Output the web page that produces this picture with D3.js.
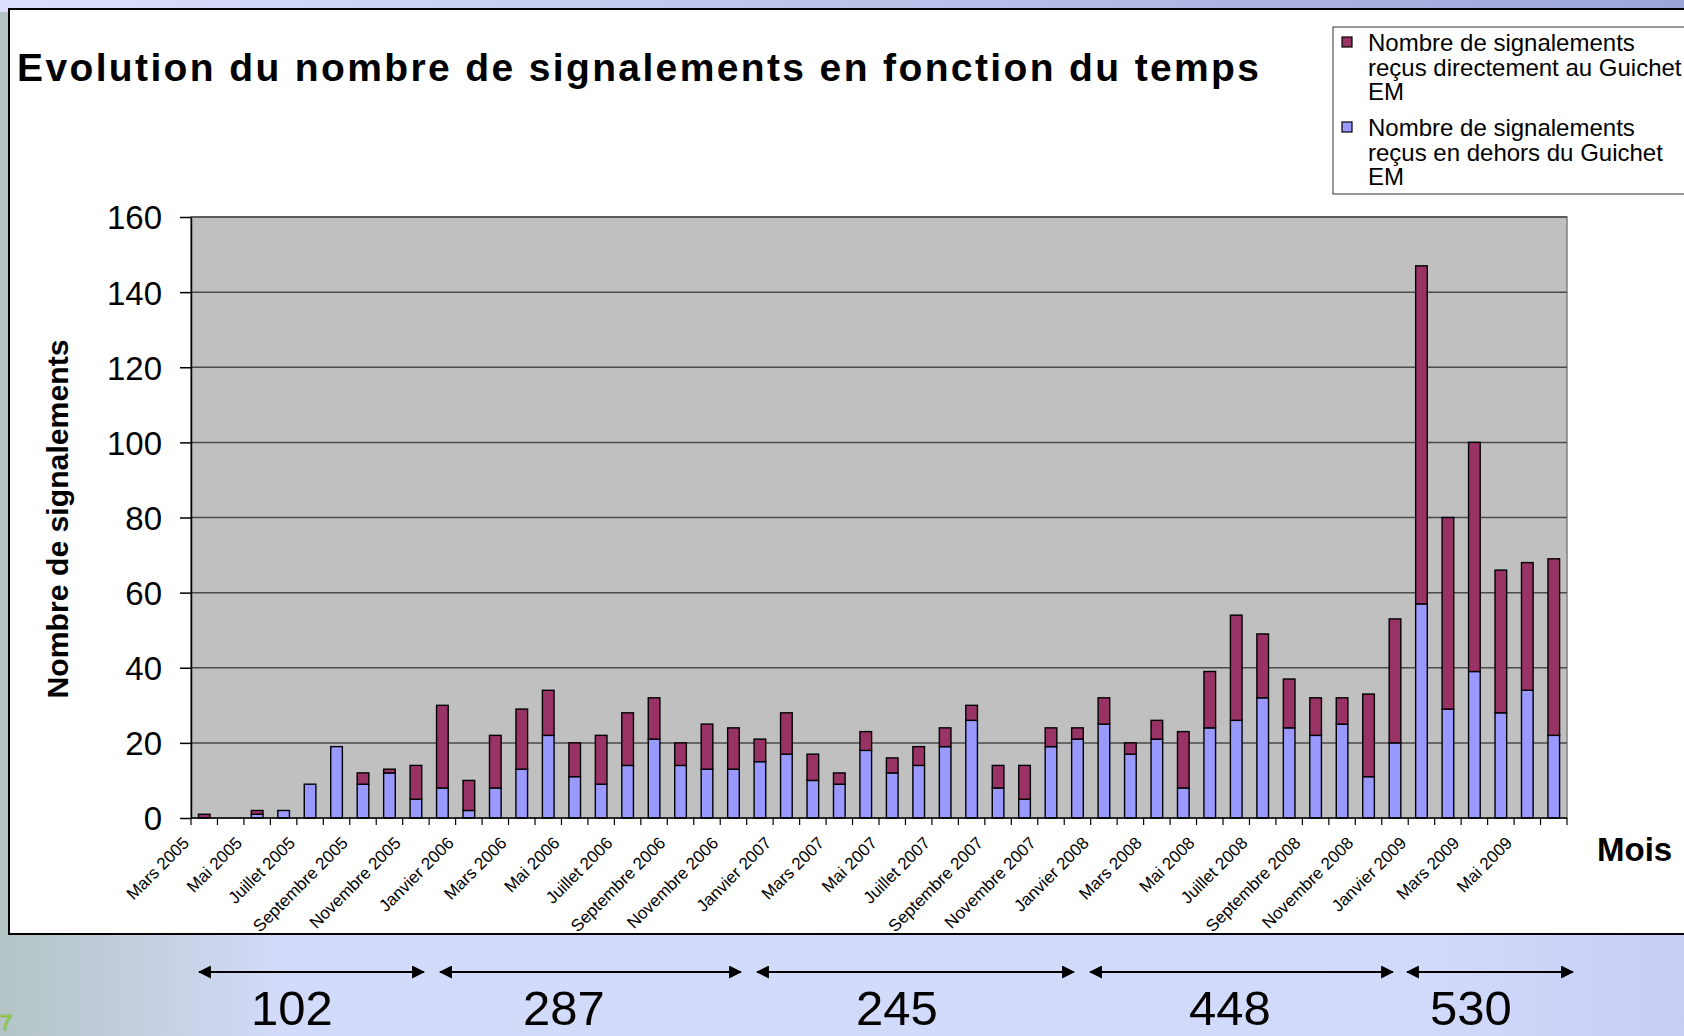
<!DOCTYPE html>
<html lang="fr">
<head>
    <meta charset="utf-8">
    <title>Evolution du nombre de signalements</title>
    <!-- D3 -->
    <script type="text/javascript" src="https://d3js.org/d3.v7.min.js"></script>
    <style>
        body {
            margin: 0;
            overflow: hidden;
        }
        svg text {
            font-family: "Liberation Sans", Arial, sans-serif;
        }
    </style>
</head>
<body>
    <div id="chart"></div>

    <script type="text/javascript">
        // categories (un mois par barre)
        const mois = [
            "Mars 2005", "Avril 2005", "Mai 2005", "Juin 2005", "Juillet 2005", "Août 2005",
            "Septembre 2005", "Octobre 2005", "Novembre 2005", "Décembre 2005",
            "Janvier 2006", "Février 2006", "Mars 2006", "Avril 2006", "Mai 2006", "Juin 2006",
            "Juillet 2006", "Août 2006", "Septembre 2006", "Octobre 2006", "Novembre 2006", "Décembre 2006",
            "Janvier 2007", "Février 2007", "Mars 2007", "Avril 2007", "Mai 2007", "Juin 2007",
            "Juillet 2007", "Août 2007", "Septembre 2007", "Octobre 2007", "Novembre 2007", "Décembre 2007",
            "Janvier 2008", "Février 2008", "Mars 2008", "Avril 2008", "Mai 2008", "Juin 2008",
            "Juillet 2008", "Août 2008", "Septembre 2008", "Octobre 2008", "Novembre 2008", "Décembre 2008",
            "Janvier 2009", "Février 2009", "Mars 2009", "Avril 2009", "Mai 2009", "Juin 2009"
        ];

        // signalements reçus en dehors du Guichet EM (bleu)
        const horsGuichet = [
            0, 0, 1, 2, 9, 19, 9, 12, 5, 8,
            2, 8, 13, 22, 11, 9, 14, 21, 14, 13, 13, 15,
            17, 10, 9, 18, 12, 14, 19, 26, 8, 5, 19, 21,
            25, 17, 21, 8, 24, 26, 32, 24, 22, 25, 11, 20,
            57, 29, 39, 28, 34, 22
        ];

        // signalements reçus directement au Guichet EM (violet)
        const auGuichet = [
            1, 0, 1, 0, 0, 0, 3, 1, 9, 22,
            8, 14, 16, 12, 9, 13, 14, 11, 6, 12, 11, 6,
            11, 7, 3, 5, 4, 5, 5, 4, 6, 9, 5, 3,
            7, 3, 5, 15, 15, 28, 17, 13, 10, 7, 22, 33,
            90, 51, 61, 38, 34, 47
        ];

        const yTicks = [0, 20, 40, 60, 80, 100, 120, 140, 160];

        const series = [
            {key: "guichet", label: ["Nombre de signalements", "reçus directement au Guichet", "EM"], color: "#993366"},
            {key: "hors", label: ["Nombre de signalements", "reçus en dehors du Guichet", "EM"], color: "#9999ff"}
        ];

        // totaux par periode (annotations sous le graphique)
        const totauxPeriodes = [102, 287, 245, 448, 530];

        const width = 1684;
        const height = 1036;
        const plot = {left: 191, right: 1567, top: 217, bottom: 818};

        const svg = d3.select("#chart")
            .append("svg")
            .attr("width", width)
            .attr("height", height);

        const defs = svg.append("defs");

        // fond de la diapo
        const bg = defs.append("linearGradient").attr("id", "bg")
            .attr("x1", 0).attr("x2", 1).attr("y1", 0).attr("y2", 0);
        bg.selectAll("stop")
            .data([[0, "#b4c4c5"], [0.17, "#d3dbfa"], [0.85, "#d2dafb"], [1, "#c5cdf5"]])
            .join("stop")
            .attr("offset", d => d[0])
            .attr("stop-color", d => d[1]);

        const haut = defs.append("linearGradient").attr("id", "haut")
            .attr("x1", 0).attr("x2", 1).attr("y1", 0).attr("y2", 0);
        haut.selectAll("stop")
            .data([[0, "#dbe1fc"], [1, "#9ea5d9"]])
            .join("stop")
            .attr("offset", d => d[0])
            .attr("stop-color", d => d[1]);

        svg.append("rect")
            .attr("width", width)
            .attr("height", height)
            .attr("fill", "url(#bg)");
        svg.append("rect")
            .attr("width", width)
            .attr("height", 12)
            .attr("fill", "url(#haut)");

        // cadre blanc du graphique
        svg.append("rect")
            .attr("x", 9)
            .attr("y", 9)
            .attr("width", 1700)
            .attr("height", 925)
            .attr("fill", "white")
            .attr("stroke", "black")
            .attr("stroke-width", 2);

        // titre
        svg.append("text")
            .attr("x", 17)
            .attr("y", 81)
            .attr("font-size", 39)
            .attr("font-weight", "bold")
            .attr("textLength", 1242)
            .attr("lengthAdjust", "spacing")
            .text("Evolution du nombre de signalements en fonction du temps");

        // scales
        const x = d3.scaleBand()
            .domain(mois)
            .range([plot.left, plot.right])
            .paddingInner(0.56)
            .paddingOuter(0.28);

        const y = d3.scaleLinear()
            .domain([0, 160])
            .range([plot.bottom, plot.top]);

        // zone de tracé grise
        svg.append("rect")
            .attr("x", plot.left)
            .attr("y", y(160))
            .attr("width", plot.right - plot.left)
            .attr("height", y(0) - y(160))
            .attr("fill", "#c0c0c0")
            .attr("stroke", "#808080")
            .attr("stroke-width", 1.5);

        // gridlines
        svg.append("g")
            .selectAll("line")
            .data(yTicks.filter(d => d > 0))
            .join("line")
            .attr("x1", plot.left)
            .attr("x2", plot.right)
            .attr("y1", d => y(d))
            .attr("y2", d => y(d))
            .attr("stroke", "#4a4a4a")
            .attr("stroke-width", 1.5);

        // barres empilées
        const table = mois.map((m, i) => ({mois: m, hors: horsGuichet[i], guichet: auGuichet[i]}));
        const stacked = d3.stack().keys(["hors", "guichet"])(table);
        const couleur = {hors: "#9999ff", guichet: "#993366"};

        svg.append("g")
            .selectAll("g")
            .data(stacked)
            .join("g")
                .attr("fill", d => couleur[d.key])
            .selectAll("rect")
            .data(d => d.filter(s => s[1] - s[0] > 0))
            .join("rect")
                .attr("x", d => x(d.data.mois))
                .attr("y", d => y(d[1]))
                .attr("width", x.bandwidth())
                .attr("height", d => y(d[0]) - y(d[1]))
                .attr("stroke", "black")
                .attr("stroke-width", 1.4);

        // axe Y
        const yAxis = svg.append("g")
            .attr("transform", `translate(${plot.left},0)`)
            .call(d3.axisLeft(y)
                .tickValues(yTicks)
                .tickSize(11)
                .tickSizeOuter(0)
                .tickPadding(18));
        yAxis.select(".domain").attr("stroke", "black").attr("stroke-width", 1.5);
        yAxis.selectAll(".tick line").attr("stroke", "black").attr("stroke-width", 1.5);
        yAxis.selectAll(".tick text")
            .attr("font-size", 33)
            .attr("fill", "black")
            .attr("dy", "0.36em");

        // axe X
        svg.append("line")
            .attr("x1", plot.left)
            .attr("x2", plot.right)
            .attr("y1", y(0))
            .attr("y2", y(0))
            .attr("stroke", "black")
            .attr("stroke-width", 1.5);

        svg.append("g")
            .selectAll("line")
            .data(d3.range(mois.length + 1))
            .join("line")
            .attr("x1", i => plot.left + i * x.step())
            .attr("x2", i => plot.left + i * x.step())
            .attr("y1", y(0))
            .attr("y2", y(0) + 7)
            .attr("stroke", "black")
            .attr("stroke-width", 1.2);

        svg.append("g")
            .selectAll("text")
            .data(mois.filter((m, i) => i % 2 === 0))
            .join("text")
            .attr("transform", m => `translate(${x(m) + x.bandwidth() / 2 - 14},${y(0) + 26}) rotate(-45)`)
            .attr("text-anchor", "end")
            .attr("font-size", 17)
            .text(m => m);

        svg.append("text")
            .attr("x", 1597)
            .attr("y", 861)
            .attr("font-size", 33)
            .attr("font-weight", "bold")
            .text("Mois");

        // titre axe Y
        svg.append("text")
            .attr("transform", "translate(68,519) rotate(-90)")
            .attr("text-anchor", "middle")
            .attr("font-size", 30)
            .attr("font-weight", "bold")
            .attr("textLength", 359)
            .attr("lengthAdjust", "spacingAndGlyphs")
            .text("Nombre de signalements");

        // légende
        const legend = svg.append("g").attr("transform", "translate(1333,27)");
        legend.append("rect")
            .attr("width", 400)
            .attr("height", 167)
            .attr("fill", "white")
            .attr("stroke", "#333")
            .attr("stroke-width", 1);

        const entries = legend.selectAll("g.entry")
            .data(series)
            .join("g")
            .attr("class", "entry")
            .attr("transform", (d, i) => `translate(0,${24 + i * 85})`);

        entries.append("rect")
            .attr("x", 9)
            .attr("y", -14)
            .attr("width", 10)
            .attr("height", 10)
            .attr("fill", d => d.color)
            .attr("stroke", "black")
            .attr("stroke-width", 1.2);

        entries.append("text")
            .attr("font-size", 24)
            .selectAll("tspan")
            .data(d => d.label)
            .join("tspan")
            .attr("x", 35)
            .attr("y", (d, i) => i * 24.7)
            .text(d => d);

        // flèches + totaux par période
        defs.append("marker")
            .attr("id", "fleche")
            .attr("viewBox", "0 0 12 12")
            .attr("refX", 11)
            .attr("refY", 6)
            .attr("markerWidth", 13)
            .attr("markerHeight", 13)
            .attr("markerUnits", "userSpaceOnUse")
            .attr("orient", "auto-start-reverse")
            .append("path")
            .attr("d", "M0,0 L12,6 L0,12 z")
            .attr("fill", "black");

        const flechesX = [[199, 424], [440, 741], [757, 1074], [1090, 1393], [1407, 1573]];
        const totauxX = [292, 564, 897, 1230, 1471];

        svg.append("g")
            .selectAll("line")
            .data(flechesX)
            .join("line")
            .attr("x1", d => d[0])
            .attr("x2", d => d[1])
            .attr("y1", 972)
            .attr("y2", 972)
            .attr("stroke", "black")
            .attr("stroke-width", 2)
            .attr("marker-start", "url(#fleche)")
            .attr("marker-end", "url(#fleche)");

        svg.append("g")
            .selectAll("text")
            .data(totauxPeriodes)
            .join("text")
            .attr("x", (d, i) => totauxX[i])
            .attr("y", 1025)
            .attr("text-anchor", "middle")
            .attr("font-size", 49)
            .text(d => d);

        // numéro de diapo
        svg.append("text")
            .attr("x", 0)
            .attr("y", 1030)
            .attr("font-size", 22)
            .attr("fill", "none")
            .attr("stroke", "#86c440")
            .attr("stroke-width", 1.1)
            .text("7");
    </script>
</body>
</html>
